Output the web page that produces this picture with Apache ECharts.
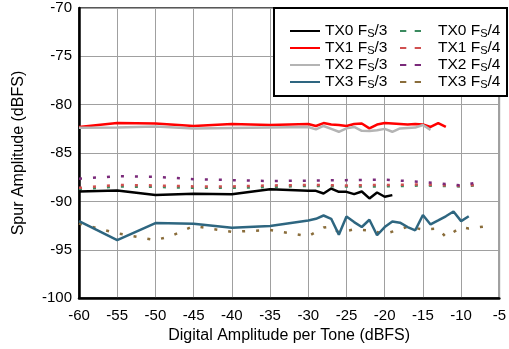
<!DOCTYPE html>
<html><head><meta charset="utf-8">
<script src="https://cdn.jsdelivr.net/npm/echarts@6/dist/echarts.min.js"></script>
<style>html,body{margin:0;padding:0;background:#fff}#c{width:509px;height:349px}</style>
</head><body><div id="c"></div>
<script>
// ---- data ----
const xTicks = [-60,-55,-50,-45,-40,-35,-30,-25,-20,-15,-10,-5];
const yTicks = [-100,-95,-90,-85,-80,-75,-70];

const tx0_3_x = [-60,-55,-50,-45,-40,-35,-30,-29,-28,-27,-26,-25,-24,-23,-22,-21,-20,-19];
const tx0_3_y = [-88.98,-88.88,-89.35,-89.2,-89.25,-88.74,-88.91,-88.91,-89.18,-88.67,-89.01,-89.01,-89.25,-88.98,-89.69,-89.08,-89.52,-89.35];

const tx1_3_x = [-60,-55,-50,-45,-40,-35,-30,-29,-28,-27,-26,-25,-24,-23,-22,-21,-20,-19,-18,-17,-16,-15,-14,-13,-12];
const tx1_3_y = [-82.3,-81.9,-81.95,-82.2,-82.0,-82.1,-82.0,-82.2,-81.9,-82.05,-82.1,-82.2,-82.0,-81.95,-82.45,-82.05,-81.9,-81.95,-82.0,-82.05,-82.0,-82.05,-82.3,-81.9,-82.3];

const tx2_3_x = [-60,-55,-50,-45,-40,-35,-30,-29,-28,-27,-26,-25,-24,-23,-22,-21,-20,-19,-18,-17,-16,-15,-14];
const tx2_3_y = [-82.38,-82.35,-82.25,-82.45,-82.4,-82.35,-82.3,-82.55,-82.2,-82.5,-82.8,-82.45,-82.3,-82.7,-82.73,-82.65,-82.5,-82.8,-82.45,-82.4,-82.37,-82.1,-82.6];

const tx3_3_x = [-60,-55,-50,-45,-40,-35,-30,-29,-28,-27,-26,-25,-24,-23,-22,-21,-20,-19,-18,-17,-16,-15,-14,-13,-12,-11,-10,-9];
const tx3_3_y = [-92.04,-94.0,-92.24,-92.3,-92.72,-92.55,-91.97,-91.8,-91.46,-91.8,-93.44,-91.57,-92.14,-92.65,-91.9,-93.5,-92.65,-92.08,-92.2,-92.65,-92.99,-91.4,-92.38,-91.97,-91.54,-91.05,-92.04,-91.53];

const fs4_x = [-60,-55,-50,-45,-40,-35,-30,-25,-20,-15,-10,-8];
const tx0_4_y = [-88.75,-88.45,-88.5,-88.6,-88.6,-88.5,-88.4,-88.45,-88.45,-88.35,-88.45,-88.35];
const tx1_4_y = [-88.6,-88.3,-88.35,-88.45,-88.45,-88.35,-88.3,-88.35,-88.3,-88.25,-88.4,-88.3];
const tx2_4_y = [-87.65,-87.4,-87.45,-87.7,-87.8,-87.9,-87.85,-87.8,-87.75,-88.0,-88.35,-88.05];

const tx3_4_x = [-60,-55,-50,-48,-45,-40,-35,-30,-28,-27,-26,-24,-22,-20,-18,-17,-15,-13,-12,-10,-9,-7];
const tx3_4_y = [-92.3,-93.3,-94.0,-93.6,-92.55,-93.15,-92.95,-93.6,-92.7,-92.6,-93.2,-92.9,-93.0,-93.35,-92.9,-92.6,-92.9,-92.8,-93.7,-92.65,-92.8,-92.6];

const names3 = ['TX0 Fs/3','TX1 Fs/3','TX2 Fs/3','TX3 Fs/3'];
const names4 = ['TX0 Fs/4','TX1 Fs/4','TX2 Fs/4','TX3 Fs/4'];
const colors3 = ['#000000','#ff0000','#b4b4b4','#2e6680'];
const colors4 = ['#3a8a5f','#d05050','#7a2a7a','#8a6d3b'];

// ---- build ----
const zip = (xs, ys) => xs.map((x,i)=>[x, ys[i]]);
const data3 = [zip(tx0_3_x,tx0_3_y), zip(tx1_3_x,tx1_3_y), zip(tx2_3_x,tx2_3_y), zip(tx3_3_x,tx3_3_y)];
const data4 = [zip(fs4_x,tx0_4_y), zip(fs4_x,tx1_4_y), zip(fs4_x,tx2_4_y), zip(tx3_4_x,tx3_4_y)];

const series = [];
names3.forEach((n,i)=>series.push({name:n,type:'line',data:data3[i],symbol:'none',z:3,
  lineStyle:{color:colors3[i],width:2.5},itemStyle:{color:colors3[i]}}));
names4.forEach((n,i)=>series.push({name:n,type:'line',data:data4[i],symbol:'none',z:2,
  lineStyle:{color:colors4[i],width:2.5,type:[3,11]},itemStyle:{color:colors4[i]}}));

const font = 'Liberation Sans, Arial, sans-serif';
const rich = {
  t:{fontSize:15.5,fontFamily:font,color:'#000',lineHeight:17},
  s:{fontSize:11,fontFamily:font,color:'#000',lineHeight:11,verticalAlign:'bottom'},
  g:{width:12}
};
function fmt(name, pad){
  const m = name.match(/^(TX\d) Fs(\/\d)$/);
  return (pad?'{g|}':'') + '{t|'+m[1]+' F}{s|S}{t|'+m[2]+'}';
}

const chart = echarts.init(document.getElementById('c'), null, {renderer:'canvas'});
chart.setOption({
  animation:false,
  backgroundColor:'#fff',
  grid:{left:79,right:2,top:8,bottom:47,show:true,borderColor:'#222',borderWidth:1.5,containLabel:false},
  xAxis:{type:'value',min:-60,max:-5,interval:5,
    name:'Digital Amplitude per Tone (dBFS)',nameLocation:'middle',nameGap:29,
    nameTextStyle:{fontSize:16,fontFamily:font,color:'#000'},
    axisLine:{lineStyle:{color:'#000',width:2.5}},axisTick:{show:false},
    axisLabel:{fontSize:15,fontFamily:font,color:'#000',margin:10,
      formatter:v=>xTicks.includes(v)?String(v):''},
    splitLine:{lineStyle:{color:'#a0a0a0',width:1}}},
  yAxis:{type:'value',min:-100,max:-70,interval:5,
    name:'Spur Amplitude (dBFS)',nameLocation:'middle',nameGap:52,
    nameTextStyle:{fontSize:16,fontFamily:font,color:'#000'},
    axisLine:{show:true,lineStyle:{color:'#000',width:2.5}},axisTick:{show:false},
    axisLabel:{fontSize:15,fontFamily:font,color:'#000',margin:7,
      formatter:v=>yTicks.includes(v)?String(v):''},
    splitLine:{lineStyle:{color:'#a0a0a0',width:1}}},
  graphic:[{type:'rect',z:5,shape:{x:274,y:8,width:233,height:88},
    style:{fill:'#fff',stroke:'#000',lineWidth:2}}],
  legend:[
    {orient:'vertical',left:285,top:18,itemWidth:30,itemHeight:14,itemGap:0.5,z:10,
     data:names3.map((n,i)=>({name:n,icon:'path://M0,6L30,6L30,8L0,8Z',itemStyle:{color:colors3[i]}})),
     formatter:n=>fmt(n,false),textStyle:{rich:rich},selectedMode:false},
    {orient:'vertical',left:395,top:18,itemWidth:21,itemHeight:14,itemGap:0.5,z:10,
     data:names4.map((n,i)=>({name:n,icon:'path://M0,6L6,6L6,8L0,8ZM14,6L20,6L20,8L14,8Z',itemStyle:{color:colors4[i]}})),
     formatter:n=>fmt(n,true),textStyle:{rich:rich},selectedMode:false}
  ],
  series:series
});
</script></body></html>
